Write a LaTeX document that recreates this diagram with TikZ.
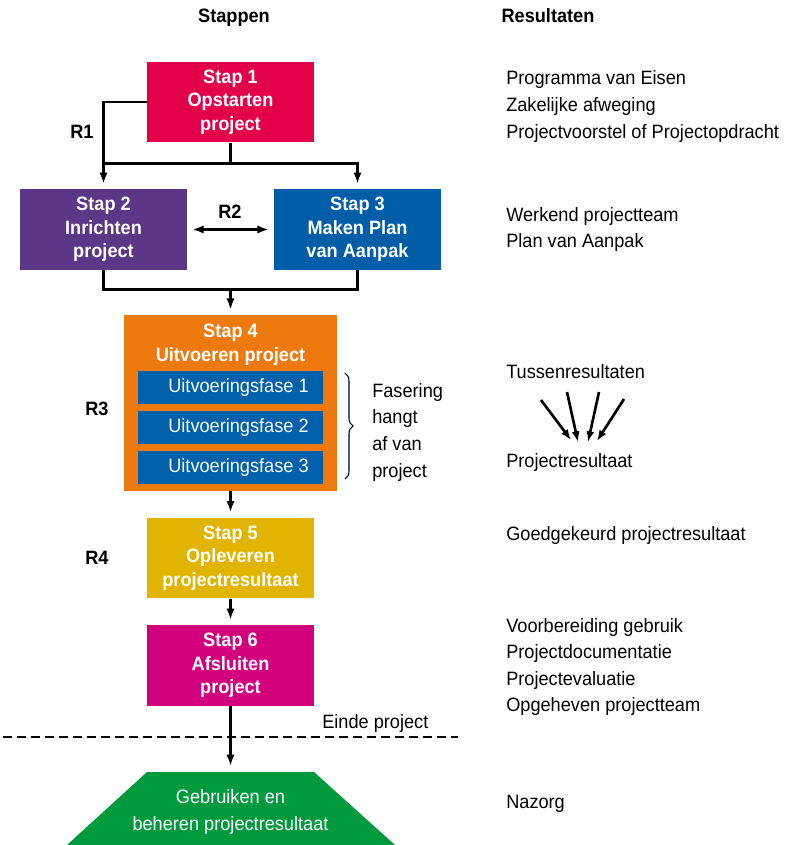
\documentclass[tikz,border=0pt]{standalone}
\usepackage{fontspec}
\setmainfont{Liberation Sans}[FakeStretch=0.94]
\usetikzlibrary{arrows.meta,decorations.pathreplacing,calc}

\definecolor{stapone}{HTML}{E2004A}
\definecolor{staptwo}{HTML}{5C3687}
\definecolor{stapthree}{HTML}{005EA8}
\definecolor{stapfour}{HTML}{EE7A0F}
\definecolor{phaseblue}{HTML}{0060A9}
\definecolor{stapfive}{HTML}{E1B400}
\definecolor{stapsix}{HTML}{D2007C}
\definecolor{usegreen}{HTML}{009A3E}

\newcommand\fs{\fontsize{14.5pt}{17.6pt}\selectfont}

\begin{document}
\begin{tikzpicture}[x=0.75pt,y=-0.75pt,
  every node/.style={font=\fs, inner sep=0pt},
  stepbox/.style={rectangle, fill=#1, text=white, font=\fs\bfseries,
    align=center, minimum width=125.25pt, minimum height=60.5pt},
  phase/.style={rectangle, fill=phaseblue, text=white,
    minimum width=138.75pt, minimum height=24.75pt},
  link/.style={line width=2.1pt},
  arr/.style={link, -{Latex[length=8.5pt,width=6.2pt]}, shorten >=3.75pt},
  thinarr/.style={line width=2pt, -{Latex[length=8pt,width=6pt]}},
  lbl/.style={font=\fs\bfseries, anchor=base west},
  res/.style={anchor=base west},
  head/.style={font=\fs\bfseries, anchor=base},
]
\useasboundingbox (0,0) rectangle (789,845);

% column headings
\node[head] (hstap) at (234,23) {Stappen};
\node[head] (hres) at (548,23) {Resultaten};

% steps
\node[stepbox=stapone] (s1) at (230.5,102) {Stap 1\\Opstarten\\project};
\node[stepbox=staptwo] (s2) at (103.5,229.5) {Stap 2\\Inrichten\\project};
\node[stepbox=stapthree] (s3) at (357.5,229.5) {Stap 3\\Maken Plan\\van Aanpak};

\node[rectangle, fill=stapfour, minimum width=159.75pt, minimum height=132pt] (s4) at (230.5,403) {};
\node[head, text=white] (s4a) at (230.5,337.7) {Stap 4};
\node[head, text=white] (s4b) at (230.5,361) {Uitvoeren project};
\node[phase] (f1) at (230.5,387.5) {\hspace*{12pt}Uitvoeringsfase 1};
\node[phase] (f2) at (230.5,427.5) {\hspace*{12pt}Uitvoeringsfase 2};
\node[phase] (f3) at (230.5,467.5) {\hspace*{12pt}Uitvoeringsfase 3};

\node[stepbox=stapfive] (s5) at (230.5,558) {Stap 5\\Opleveren\\projectresultaat};
\node[stepbox=stapsix] (s6) at (230.5,665.5) {Stap 6\\Afsluiten\\project};

% after the project
\fill[usegreen] (147,772) -- (314,772) -- (395,845) -- (67,845) -- cycle;
\coordinate (gtop) at (230.5,772);
\node[anchor=base, text=white] (g1) at (230.5,803) {Gebruiken en};
\node[anchor=base, text=white] (g2) at (230.5,830) {beheren projectresultaat};

% connectors
\coordinate (j1) at ($(s1.south)+(0,21)$);
\draw[arr] (s1.west) -| (s2.north);
\draw[link] (s1.south) -- (j1);
\draw[link] (j1 -| s2.north) -- (j1);
\draw[arr] (j1) -| (s3.north);
\draw[link, {Latex[length=8.5pt,width=6.2pt]}-{Latex[length=8.5pt,width=6.2pt]},
  shorten <=3.75pt, shorten >=3.75pt] (s2) -- (s3);

\coordinate (j2) at ($(s4.north)+(0,-25)$);
\draw[link] (s2.south) |- (j2);
\draw[link] (s3.south) |- (j2);
\draw[arr] (j2) -- (s4.north);
\draw[arr] (s4) -- (s5);
\draw[arr] (s5) -- (s6);
\draw[arr, shorten >=4.5pt] (s6) -- (gtop);

% review labels
\node[lbl] (r1) at (70,139) {R1};
\node[lbl] (r2) at (218,218) {R2};
\node[lbl] (r3) at (85,415) {R3};
\node[lbl] (r4) at (85,564) {R4};

% phasing note
\draw[line width=0.8pt, decorate, decoration={brace, amplitude=6pt}] (345,373) -- (345,479);
\node[res] (n1) at (372,397) {Fasering};
\node[res] (n2) at (372,423) {hangt};
\node[res] (n3) at (372,450) {af van};
\node[res] (n4) at (372,477) {project};

% end of project
\draw[line width=1pt, dash pattern=on 6.75pt off 3.75pt] (3,737) -- (458,737);
\node[res] (einde) at (322,728) {Einde project};

% results column
\node[res] (ra1) at (506,85) {Programma van Eisen};
\node[res] (ra2) at (506,111.5) {Zakelijke afweging};
\node[res] (ra3) at (506,138) {Projectvoorstel of Projectopdracht};
\node[res] (rb1) at (506,221.5) {Werkend projectteam};
\node[res] (rb2) at (506,247.5) {Plan van Aanpak};
\node[res] (rc1) at (506,378) {Tussenresultaten};
\node[res] (rc2) at (506,467) {Projectresultaat};
\node[res] (rd1) at (506,540) {Goedgekeurd projectresultaat};
\node[res] (re1) at (506,632) {Voorbereiding gebruik};
\node[res] (re2) at (506,658.5) {Projectdocumentatie};
\node[res] (re3) at (506,685) {Projectevaluatie};
\node[res] (re4) at (506,711.5) {Opgeheven projectteam};
\node[res] (rf1) at (506,808) {Nazorg};

% intermediate results merging into one result
\coordinate (t1) at (541,400); \coordinate (p1) at (571,440);
\coordinate (t2) at (567,392); \coordinate (p2) at (578,442);
\coordinate (t3) at (599,392); \coordinate (p3) at (588,442);
\coordinate (t4) at (624,399); \coordinate (p4) at (597,441);
\draw[thinarr] (t1) -- (p1);
\draw[thinarr] (t2) -- (p2);
\draw[thinarr] (t3) -- (p3);
\draw[thinarr] (t4) -- (p4);
\end{tikzpicture}
\end{document}
